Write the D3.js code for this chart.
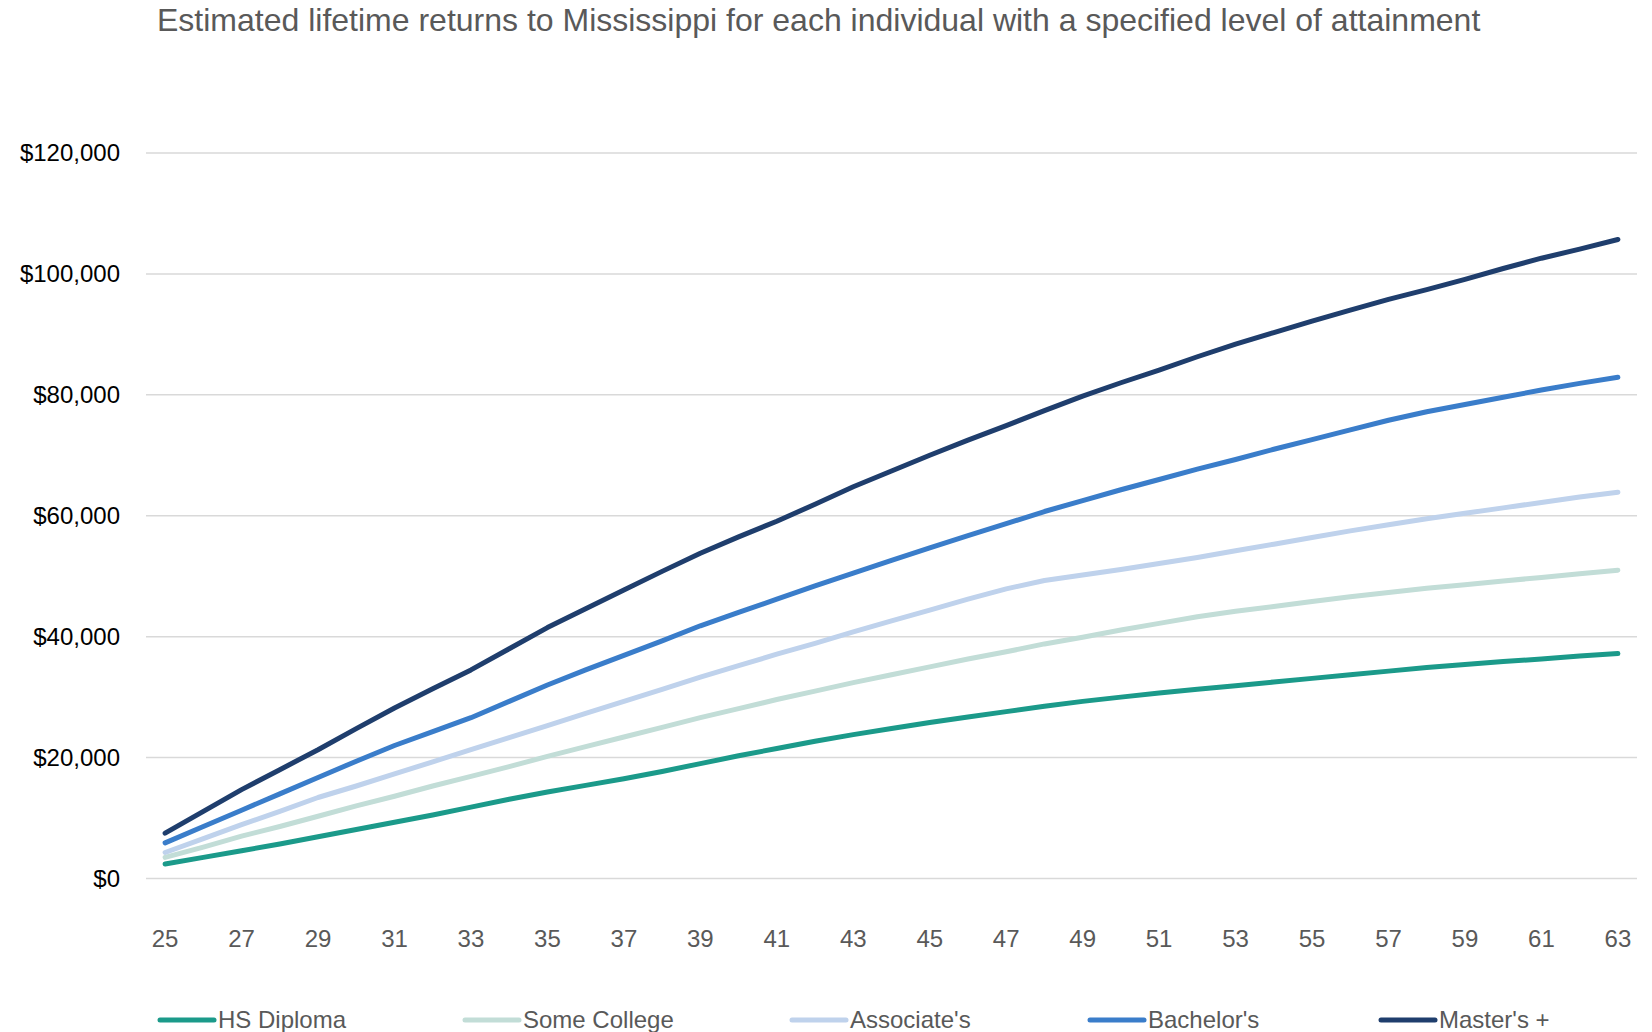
<!DOCTYPE html>
<html>
<head>
<meta charset="utf-8">
<script src="https://cdn.jsdelivr.net/npm/d3@7"></script>
<style>
  html, body { margin: 0; padding: 0; background: #fff; overflow: hidden; }
  svg { display: block; font-family: "Liberation Sans", Arial, sans-serif; }
</style>
</head>
<body>
<svg id="chart" width="1652" height="1032"></svg>
<script>
const ages = d3.range(25, 64);
const xTicks = d3.range(25, 64, 2);
const yTicks = [0, 20000, 40000, 60000, 80000, 100000, 120000];

const hsDiploma = [2400, 3500, 4600, 5700, 6900, 8100, 9300, 10500, 11800, 13100, 14300, 15400, 16500, 17700, 19000, 20300, 21500, 22700, 23800, 24800, 25800, 26700, 27600, 28500, 29300, 30000, 30700, 31300, 31900, 32500, 33100, 33700, 34300, 34900, 35400, 35900, 36300, 36800, 37200];
const someCollege = [3500, 5200, 7000, 8600, 10300, 12000, 13600, 15300, 16900, 18500, 20200, 21800, 23400, 25000, 26600, 28100, 29600, 31000, 32400, 33700, 35000, 36300, 37500, 38800, 39900, 41100, 42200, 43300, 44200, 45000, 45800, 46600, 47300, 48000, 48600, 49200, 49800, 50400, 51000];
const associates = [4300, 6600, 8900, 11100, 13400, 15300, 17300, 19300, 21300, 23300, 25300, 27300, 29300, 31300, 33300, 35200, 37100, 38900, 40800, 42600, 44400, 46200, 47900, 49300, 50200, 51100, 52100, 53100, 54200, 55300, 56400, 57500, 58500, 59500, 60400, 61300, 62200, 63100, 63900];
const bachelors = [5900, 8600, 11300, 14000, 16700, 19400, 22000, 24300, 26600, 29300, 32000, 34500, 36900, 39300, 41800, 44000, 46200, 48400, 50500, 52600, 54700, 56700, 58700, 60700, 62500, 64300, 66000, 67700, 69300, 71000, 72600, 74200, 75800, 77200, 78400, 79600, 80800, 81900, 82900];
const masters = [7500, 11100, 14700, 18000, 21300, 24800, 28200, 31400, 34500, 38000, 41500, 44600, 47700, 50800, 53800, 56500, 59100, 61900, 64800, 67400, 70000, 72500, 74900, 77400, 79800, 82000, 84100, 86300, 88400, 90300, 92200, 94000, 95800, 97400, 99100, 100900, 102600, 104100, 105700];

const seriesNames = ["HS Diploma", "Some College", "Associate's", "Bachelor's", "Master's +"];
const seriesColors = ["#1b9a8a", "#c2ddd7", "#bfd2ec", "#3a7dca", "#1f3e6d"];
const seriesValues = [hsDiploma, someCollege, associates, bachelors, masters];

const svg = d3.select('#chart');
const margin = {left: 146, top: 153};
const plotRight = 1637;
const plotBottom = 878.5;

const x = d3.scaleBand()
  .domain(ages)
  .range([margin.left, plotRight]);

const y = d3.scaleLinear()
  .domain([0, 120000])
  .range([plotBottom, margin.top]);

const cx = d => x(d) + x.bandwidth() / 2;

// title
svg.append('text')
  .attr('x', 157)
  .attr('y', 31)
  .text('Estimated lifetime returns to Mississippi for each individual with a specified level of attainment')
  .style('font-size', '32px')
  .style('fill', '#595959');

// gridlines
svg.append('g')
  .selectAll('line')
  .data(yTicks)
  .enter().append('line')
  .attr('x1', margin.left)
  .attr('x2', plotRight)
  .attr('y1', d => y(d))
  .attr('y2', d => y(d))
  .attr('stroke', '#d9d9d9')
  .attr('stroke-width', 1.5);

// y axis labels
const yAxis = svg.append('g')
  .attr('transform', `translate(${margin.left},0)`)
  .call(d3.axisLeft(y).tickValues(yTicks).tickSize(0).tickPadding(26).tickFormat(d => '$' + d3.format(',')(d)));
yAxis.select('.domain').remove();
yAxis.selectAll('text')
  .style('font-size', '24px')
  .style('font-family', '"Liberation Sans", Arial, sans-serif')
  .style('fill', '#000');

// x axis labels
const xAxis = svg.append('g')
  .attr('transform', `translate(0,${plotBottom})`)
  .call(d3.axisBottom(x).tickValues(xTicks).tickSize(0).tickPadding(51));
xAxis.select('.domain').remove();
xAxis.selectAll('text')
  .style('font-size', '24px')
  .style('font-family', '"Liberation Sans", Arial, sans-serif')
  .style('fill', '#595959');

// lines
const line = d3.line()
  .x((d, i) => cx(ages[i]))
  .y(d => y(d));

svg.append('g')
  .selectAll('path')
  .data(seriesValues)
  .enter().append('path')
  .attr('d', line)
  .attr('fill', 'none')
  .attr('stroke', (d, i) => seriesColors[i])
  .attr('stroke-width', 5)
  .attr('stroke-linecap', 'round')
  .attr('stroke-linejoin', 'round');

// legend
const legendX = [160, 465, 792, 1090, 1381];
const legend = svg.append('g')
  .selectAll('g')
  .data(seriesNames)
  .enter().append('g')
  .attr('transform', (d, i) => `translate(${legendX[i]},1020)`);

legend.append('line')
  .attr('x1', 0)
  .attr('x2', 54)
  .attr('y1', 0)
  .attr('y2', 0)
  .attr('stroke', (d, i) => seriesColors[i])
  .attr('stroke-width', 5)
  .attr('stroke-linecap', 'round');

legend.append('text')
  .attr('x', 58)
  .attr('y', 0)
  .attr('dy', '0.35em')
  .text(d => d)
  .style('font-size', '24px')
  .style('fill', '#595959');
</script>
</body>
</html>
